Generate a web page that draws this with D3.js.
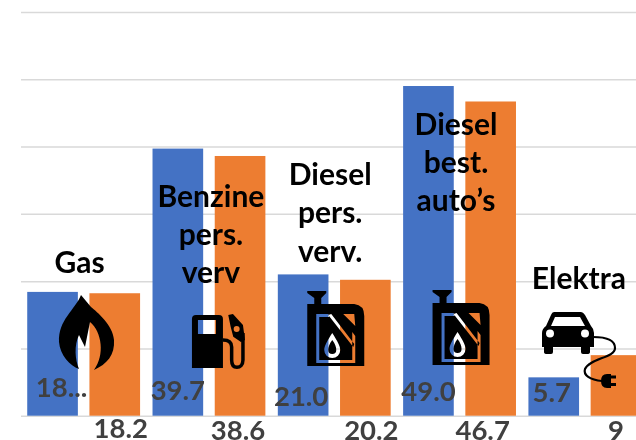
<!DOCTYPE html>
<html>
<head>
<meta charset="utf-8">
<script src="https://cdnjs.cloudflare.com/ajax/libs/d3/7.8.5/d3.min.js"></script>
<style>
html, body { margin: 0; padding: 0; background: #fff; overflow: hidden; }
svg { display: block; }
text { font-family: Lato, sans-serif; }
</style>
</head>
<body>
<script>
const w = 636;
const h = 440;

// data
const categories = ["Gas", "Benzine pers. verv", "Diesel pers. verv.", "Diesel best. auto's", "Elektra"];
const seriesNames = ["a", "b"];
const valuesA = [18.4, 39.7, 21.0, 49.0, 5.7];
const valuesB = [18.2, 38.6, 20.2, 46.7, 9];
const labelsA = ["18...", "39.7", "21.0", "49.0", "5.7"];
const labelsB = ["18.2", "38.6", "20.2", "46.7", "9"];
const yTicks = [0, 10, 20, 30, 40, 50, 60];
const categoryLines = [["Gas"], ["Benzine", "pers.", "verv"], ["Diesel", "pers.", "verv."], ["Diesel", "best.", "auto’s"], ["Elektra"]];

// the labels were moved by hand in the original, so they sit off the bars
const nudgeA = [[9, 396.7], [0, 400], [-2, 405.7], [0, 400.7], [-2, 401.7]];
const nudgeB = [[6, 437.7], [-2, 439.5], [6, 439.5], [-8, 439.5], [0, 439.5]];
const catLabelPos = [[-4, 272.7], [2, 206.7], [-4, 185], [-3.5, 134.5], [-6, 289]];

const colors = { a: "#4472c4", b: "#ed7d31" };

const x0 = d3.scaleBand().domain(categories).range([21, 647.5]);
const x1 = d3.scaleBand().domain(seriesNames).range([0, x0.bandwidth()]).paddingInner(0.186).paddingOuter(0.1);
const y = d3.scaleLinear().domain([0, 60]).range([415.7, 12]);

const svg = d3.select("body").append("svg").attr("width", w).attr("height", h);

const defs = svg.append("defs");
defs.append("filter").attr("id", "soft").append("feGaussianBlur").attr("stdDeviation", 0.45);
defs.append("filter").attr("id", "softText").append("feGaussianBlur").attr("stdDeviation", 0.3);

// gridlines
const grid = svg.append("g")
	.attr("transform", "translate(21,0)")
	.call(d3.axisLeft(y).tickValues(yTicks).tickSize(-w).tickFormat(""));
grid.select(".domain").remove();
grid.selectAll("line").attr("stroke", "#d9d9d9").attr("stroke-width", 1.5);

// bars
[["a", valuesA], ["b", valuesB]].forEach(([name, vals]) => {
	svg.append("g").selectAll("rect")
		.data(vals)
		.enter()
		.append("rect")
		.attr("x", (d, i) => x0(categories[i]) + x1(name))
		.attr("y", (d) => y(d))
		.attr("width", x1.bandwidth())
		.attr("height", (d) => y(0) - y(d))
		.attr("fill", colors[name]);
});

// value labels
[["a", labelsA, nudgeA], ["b", labelsB, nudgeB]].forEach(([name, labels, nudge]) => {
	svg.append("g").selectAll("text")
		.data(labels)
		.enter()
		.append("text")
		.text((d) => d)
		.attr("x", (d, i) => x0(categories[i]) + x1(name) + x1.bandwidth() / 2 + nudge[i][0])
		.attr("y", (d, i) => nudge[i][1])
		.attr("text-anchor", "middle")
		.attr("font-size", 27.5)
		.attr("font-weight", 700)
		.attr("fill", "#404040")
		.attr("filter", "url(#softText)");
});

// icons, each in its own little coordinate box
const flame = "M26 5C20 20 3 30 4 52C5 65 15 76 24 79C20 70 19 55 24 45L30 57L35 32C47 42 50 65 39 80C52 74 60 65 59 50C58 35 42 22 36 17Z";
const pumpBody = "M11 10H34Q38 10 38 14V63H7V14Q7 10 11 10ZM13 15V29H31V15Z";
const pumpNozzle = "M43.3 10L48 9L58 20L60 35L56 37L48.3 31.7L45.7 21.7ZM51.7 21A3 3 0 1 0 51.7 27A3 3 0 1 0 51.7 21Z";
const pumpHose = "M38 35C44 35 46.7 37 46.7 42V55C46.7 60 49 62.3 52 62.3C55 62.3 58 60 58 55V28";
const can = "M8 5H27V7L22 12V18H15V12L8 7Z"
	+ "M8 18H55Q65 19 65 30V80H8Z"
	+ "M17 28H29L30 31H20V74H53V46L56 50V77H17Z"
	+ "M29 29L32 28L55 58L54 61Z"
	+ "M44 28H55L56 40Z"
	+ "M33 47C38 55 41 60 41 64A8 8 0 0 1 25 64C25 60 28 55 33 47Z"
	+ "M33 54C36 58 37 61 37 64A4 4 0 0 1 29 64C29 61 30 58 33 54Z";
const car = "M19 7H46Q48 7 50 10L56 21Q59 24 59 28V42H55V47Q55 49 52 49H48Q46 49 46 47V42H18V47Q18 49 16 49H12Q9 49 9 47V42H7V28Q7 24 11 21L16 10Q17 7 19 7Z"
	+ "M20 12H45L50 21H16Z"
	+ "M15 24.5A4 4 0 1 0 15 32.5A4 4 0 1 0 15 24.5Z"
	+ "M50 24.5A4 4 0 1 0 50 32.5A4 4 0 1 0 50 24.5Z";
const cable = "M58 32C72 32 80 36 80 43C80 53 55 53 50 64C48 70 55 75 67 76";
const plug = "M66 76Q66 69 72 69H76V83H72Q66 83 66 76ZM76 70.5H81V73.5H76ZM76 78H81V81H76Z";

const iconLayer = svg.append("g").attr("filter", "url(#soft)");
function icon(i, dx, top) {
	return iconLayer.append("g")
		.attr("transform", "translate(" + (x0(categories[i]) + x0.bandwidth() / 2 + dx) + "," + top + ")");
}
function solid(g, d) { g.append("path").attr("d", d).attr("fill", "#000").attr("fill-rule", "evenodd"); }
function wire(g, d, sw) { g.append("path").attr("d", d).attr("fill", "none").attr("stroke", "#000").attr("stroke-width", sw); }

solid(icon(0, -28.65, 290), flame);

const pump = icon(1, -24, 305);
solid(pump, pumpBody);
solid(pump, pumpNozzle);
wire(pump, pumpHose, 3.5);

solid(icon(2, -35, 286), can);
solid(icon(3, -35, 285), can);

const carIcon = icon(4, -49.85, 305);
solid(carIcon, car);
wire(carIcon, cable, 2.2);
solid(carIcon, plug);

// category names sit on top of everything
categories.forEach((c, i) => {
	const t = svg.append("text")
		.attr("text-anchor", "middle")
		.attr("font-size", 30)
		.attr("font-weight", 700)
		.attr("fill", "#000")
		.attr("filter", "url(#softText)");
	categoryLines[i].forEach((line, j) => {
		t.append("tspan")
			.attr("x", x0(c) + x0.bandwidth() / 2 + catLabelPos[i][0])
			.attr("y", catLabelPos[i][1] + j * 38.3)
			.text(line);
	});
});
</script>
</body>
</html>
